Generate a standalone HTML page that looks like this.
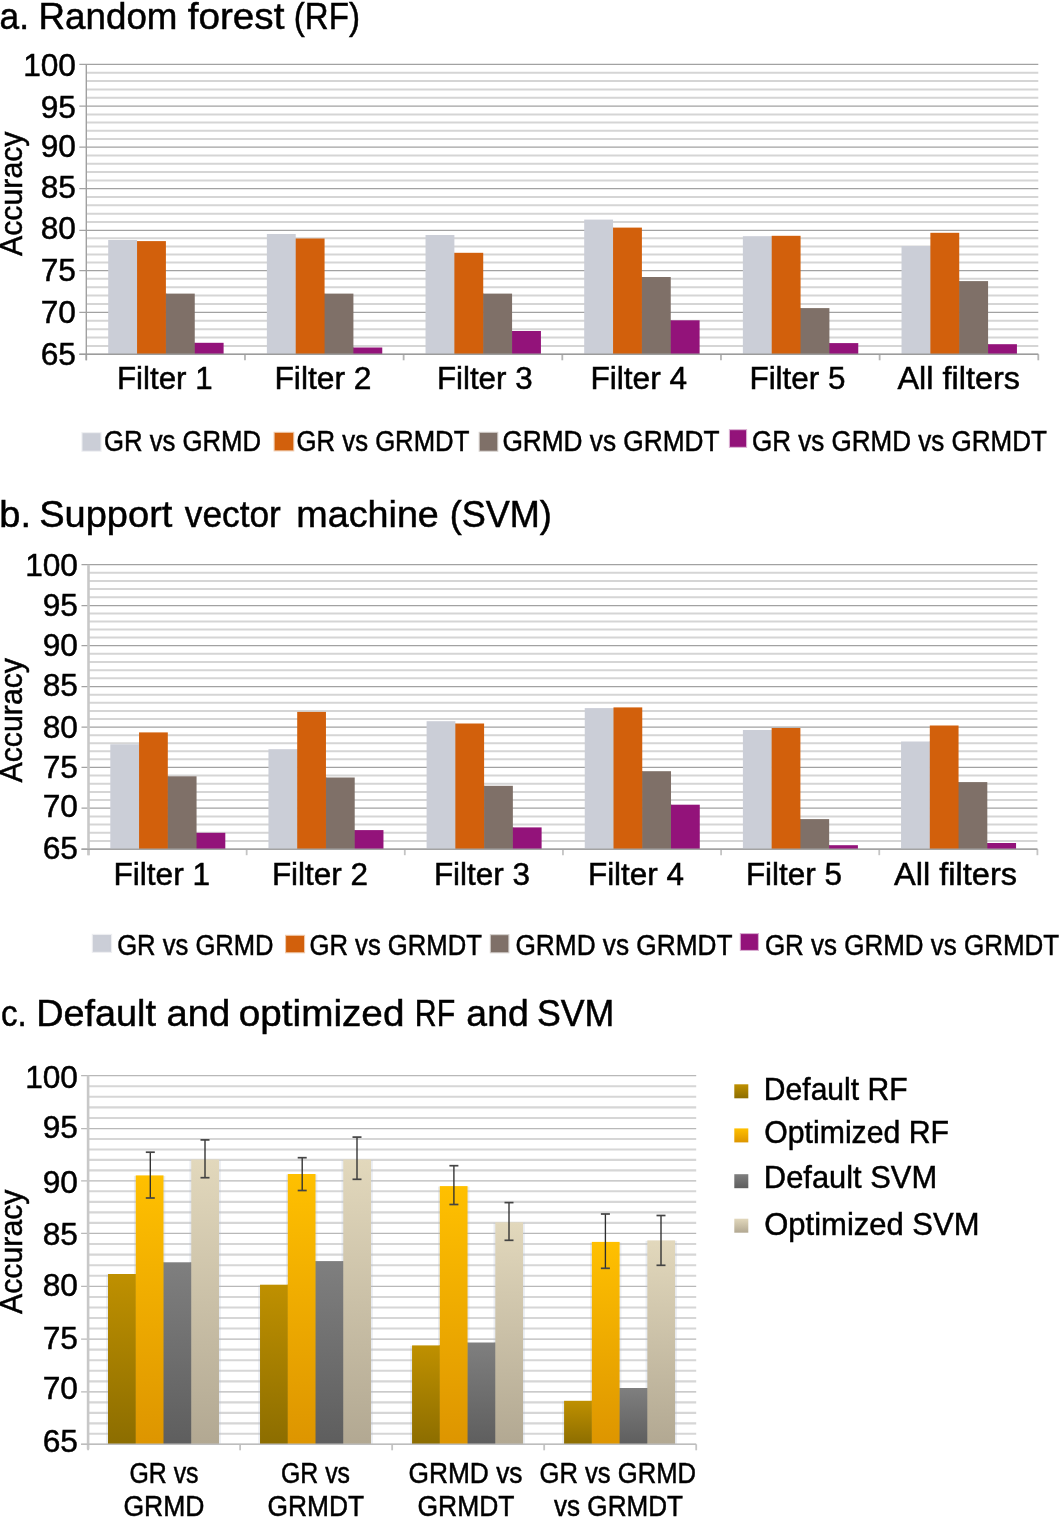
<!DOCTYPE html>
<html><head><meta charset="utf-8"><title>Accuracy charts</title>
<style>
html,body{margin:0;padding:0;background:#fff;}
svg{display:block;will-change:transform;}
text{font-family:"Liberation Sans", sans-serif;fill:#000;stroke:#000;stroke-width:0.5px;-webkit-font-smoothing:antialiased;}
</style></head><body>
<svg width="1060" height="1518" viewBox="0 0 1060 1518">
<defs>
<linearGradient id="gc0" x1="0" y1="0" x2="0" y2="1"><stop offset="0" stop-color="#bf9000"/><stop offset="1" stop-color="#8c6d00"/></linearGradient>
<linearGradient id="gc1" x1="0" y1="0" x2="0" y2="1"><stop offset="0" stop-color="#ffc000"/><stop offset="1" stop-color="#dd9500"/></linearGradient>
<linearGradient id="gc2" x1="0" y1="0" x2="0" y2="1"><stop offset="0" stop-color="#7f7f7f"/><stop offset="1" stop-color="#5e5e5e"/></linearGradient>
<linearGradient id="gc3" x1="0" y1="0" x2="0" y2="1"><stop offset="0" stop-color="#e2d8bc"/><stop offset="1" stop-color="#b2a892"/></linearGradient>
</defs>
<rect x="0" y="0" width="1060" height="1518" fill="#fff"/>
<line x1="86.30" y1="72.76" x2="1038.30" y2="72.76" stroke="#d5d5d5" stroke-width="2.0" />
<line x1="86.30" y1="81.12" x2="1038.30" y2="81.12" stroke="#d5d5d5" stroke-width="2.0" />
<line x1="86.30" y1="89.48" x2="1038.30" y2="89.48" stroke="#d5d5d5" stroke-width="2.0" />
<line x1="86.30" y1="97.84" x2="1038.30" y2="97.84" stroke="#d5d5d5" stroke-width="2.0" />
<line x1="86.30" y1="114.40" x2="1038.30" y2="114.40" stroke="#d5d5d5" stroke-width="2.0" />
<line x1="86.30" y1="122.60" x2="1038.30" y2="122.60" stroke="#d5d5d5" stroke-width="2.0" />
<line x1="86.30" y1="130.80" x2="1038.30" y2="130.80" stroke="#d5d5d5" stroke-width="2.0" />
<line x1="86.30" y1="139.00" x2="1038.30" y2="139.00" stroke="#d5d5d5" stroke-width="2.0" />
<line x1="86.30" y1="155.50" x2="1038.30" y2="155.50" stroke="#d5d5d5" stroke-width="2.0" />
<line x1="86.30" y1="163.80" x2="1038.30" y2="163.80" stroke="#d5d5d5" stroke-width="2.0" />
<line x1="86.30" y1="172.10" x2="1038.30" y2="172.10" stroke="#d5d5d5" stroke-width="2.0" />
<line x1="86.30" y1="180.40" x2="1038.30" y2="180.40" stroke="#d5d5d5" stroke-width="2.0" />
<line x1="86.30" y1="197.02" x2="1038.30" y2="197.02" stroke="#d5d5d5" stroke-width="2.0" />
<line x1="86.30" y1="205.34" x2="1038.30" y2="205.34" stroke="#d5d5d5" stroke-width="2.0" />
<line x1="86.30" y1="213.66" x2="1038.30" y2="213.66" stroke="#d5d5d5" stroke-width="2.0" />
<line x1="86.30" y1="221.98" x2="1038.30" y2="221.98" stroke="#d5d5d5" stroke-width="2.0" />
<line x1="86.30" y1="238.34" x2="1038.30" y2="238.34" stroke="#d5d5d5" stroke-width="2.0" />
<line x1="86.30" y1="246.38" x2="1038.30" y2="246.38" stroke="#d5d5d5" stroke-width="2.0" />
<line x1="86.30" y1="254.42" x2="1038.30" y2="254.42" stroke="#d5d5d5" stroke-width="2.0" />
<line x1="86.30" y1="262.46" x2="1038.30" y2="262.46" stroke="#d5d5d5" stroke-width="2.0" />
<line x1="86.30" y1="278.86" x2="1038.30" y2="278.86" stroke="#d5d5d5" stroke-width="2.0" />
<line x1="86.30" y1="287.22" x2="1038.30" y2="287.22" stroke="#d5d5d5" stroke-width="2.0" />
<line x1="86.30" y1="295.58" x2="1038.30" y2="295.58" stroke="#d5d5d5" stroke-width="2.0" />
<line x1="86.30" y1="303.94" x2="1038.30" y2="303.94" stroke="#d5d5d5" stroke-width="2.0" />
<line x1="86.30" y1="320.72" x2="1038.30" y2="320.72" stroke="#d5d5d5" stroke-width="2.0" />
<line x1="86.30" y1="329.14" x2="1038.30" y2="329.14" stroke="#d5d5d5" stroke-width="2.0" />
<line x1="86.30" y1="337.56" x2="1038.30" y2="337.56" stroke="#d5d5d5" stroke-width="2.0" />
<line x1="86.30" y1="345.98" x2="1038.30" y2="345.98" stroke="#d5d5d5" stroke-width="2.0" />
<line x1="79.30" y1="64.40" x2="1038.30" y2="64.40" stroke="#a2a2a2" stroke-width="1.25" />
<line x1="79.30" y1="106.20" x2="1038.30" y2="106.20" stroke="#a2a2a2" stroke-width="1.25" />
<line x1="79.30" y1="147.20" x2="1038.30" y2="147.20" stroke="#a2a2a2" stroke-width="1.25" />
<line x1="79.30" y1="188.70" x2="1038.30" y2="188.70" stroke="#a2a2a2" stroke-width="1.25" />
<line x1="79.30" y1="230.30" x2="1038.30" y2="230.30" stroke="#a2a2a2" stroke-width="1.25" />
<line x1="79.30" y1="270.50" x2="1038.30" y2="270.50" stroke="#a2a2a2" stroke-width="1.25" />
<line x1="79.30" y1="312.30" x2="1038.30" y2="312.30" stroke="#a2a2a2" stroke-width="1.25" />
<line x1="79.30" y1="354.40" x2="1038.30" y2="354.40" stroke="#a2a2a2" stroke-width="1.25" />
<line x1="86.30" y1="354.30" x2="86.30" y2="360.30" stroke="#b4b4b4" stroke-width="1.8" />
<line x1="244.97" y1="354.30" x2="244.97" y2="360.30" stroke="#b4b4b4" stroke-width="1.8" />
<line x1="403.63" y1="354.30" x2="403.63" y2="360.30" stroke="#b4b4b4" stroke-width="1.8" />
<line x1="562.30" y1="354.30" x2="562.30" y2="360.30" stroke="#b4b4b4" stroke-width="1.8" />
<line x1="720.97" y1="354.30" x2="720.97" y2="360.30" stroke="#b4b4b4" stroke-width="1.8" />
<line x1="879.63" y1="354.30" x2="879.63" y2="360.30" stroke="#b4b4b4" stroke-width="1.8" />
<line x1="1038.30" y1="354.30" x2="1038.30" y2="360.30" stroke="#b4b4b4" stroke-width="1.8" />
<rect x="136.45" y="241.10" width="1.20" height="113.20" fill="#cbced7" />
<rect x="165.30" y="293.60" width="1.20" height="60.70" fill="#d2600c" />
<rect x="194.15" y="342.80" width="1.20" height="11.50" fill="#7f7068" />
<rect x="295.12" y="238.50" width="1.20" height="115.80" fill="#cbced7" />
<rect x="323.96" y="293.60" width="1.20" height="60.70" fill="#d2600c" />
<rect x="352.81" y="347.50" width="1.20" height="6.80" fill="#7f7068" />
<rect x="453.78" y="252.80" width="1.20" height="101.50" fill="#cbced7" />
<rect x="482.63" y="293.60" width="1.20" height="60.70" fill="#d2600c" />
<rect x="511.48" y="331.00" width="1.20" height="23.30" fill="#7f7068" />
<rect x="612.45" y="227.60" width="1.20" height="126.70" fill="#cbced7" />
<rect x="641.30" y="277.00" width="1.20" height="77.30" fill="#d2600c" />
<rect x="670.15" y="320.30" width="1.20" height="34.00" fill="#7f7068" />
<rect x="771.12" y="236.20" width="1.20" height="118.10" fill="#cbced7" />
<rect x="799.96" y="308.10" width="1.20" height="46.20" fill="#d2600c" />
<rect x="828.81" y="343.10" width="1.20" height="11.20" fill="#7f7068" />
<rect x="929.78" y="246.00" width="1.20" height="108.30" fill="#cbced7" />
<rect x="958.63" y="281.10" width="1.20" height="73.20" fill="#d2600c" />
<rect x="987.48" y="344.20" width="1.20" height="10.10" fill="#7f7068" />
<rect x="108.20" y="240.00" width="28.85" height="114.30" fill="#cbced7" />
<rect x="137.05" y="241.10" width="28.85" height="113.20" fill="#d2600c" />
<rect x="165.90" y="293.60" width="28.85" height="60.70" fill="#7f7068" />
<rect x="194.75" y="342.80" width="28.85" height="11.50" fill="#93137a" />
<rect x="266.87" y="234.00" width="28.85" height="120.30" fill="#cbced7" />
<rect x="295.72" y="238.50" width="28.85" height="115.80" fill="#d2600c" />
<rect x="324.56" y="293.60" width="28.85" height="60.70" fill="#7f7068" />
<rect x="353.41" y="347.50" width="28.85" height="6.80" fill="#93137a" />
<rect x="425.53" y="235.00" width="28.85" height="119.30" fill="#cbced7" />
<rect x="454.38" y="252.80" width="28.85" height="101.50" fill="#d2600c" />
<rect x="483.23" y="293.60" width="28.85" height="60.70" fill="#7f7068" />
<rect x="512.08" y="331.00" width="28.85" height="23.30" fill="#93137a" />
<rect x="584.20" y="219.60" width="28.85" height="134.70" fill="#cbced7" />
<rect x="613.05" y="227.60" width="28.85" height="126.70" fill="#d2600c" />
<rect x="641.90" y="277.00" width="28.85" height="77.30" fill="#7f7068" />
<rect x="670.75" y="320.30" width="28.85" height="34.00" fill="#93137a" />
<rect x="742.87" y="236.20" width="28.85" height="118.10" fill="#cbced7" />
<rect x="771.72" y="235.80" width="28.85" height="118.50" fill="#d2600c" />
<rect x="800.56" y="308.10" width="28.85" height="46.20" fill="#7f7068" />
<rect x="829.41" y="343.10" width="28.85" height="11.20" fill="#93137a" />
<rect x="901.53" y="246.00" width="28.85" height="108.30" fill="#cbced7" />
<rect x="930.38" y="232.80" width="28.85" height="121.50" fill="#d2600c" />
<rect x="959.23" y="281.10" width="28.85" height="73.20" fill="#7f7068" />
<rect x="988.08" y="344.20" width="28.85" height="10.10" fill="#93137a" />
<line x1="86.30" y1="64.50" x2="86.30" y2="360.30" stroke="#a0a0a0" stroke-width="1.4" />
<line x1="79.30" y1="354.30" x2="1038.30" y2="354.30" stroke="#9c9c9c" stroke-width="1.4" />
<line x1="88.50" y1="572.70" x2="1037.40" y2="572.70" stroke="#d5d5d5" stroke-width="2.0" />
<line x1="88.50" y1="580.90" x2="1037.40" y2="580.90" stroke="#d5d5d5" stroke-width="2.0" />
<line x1="88.50" y1="589.10" x2="1037.40" y2="589.10" stroke="#d5d5d5" stroke-width="2.0" />
<line x1="88.50" y1="597.30" x2="1037.40" y2="597.30" stroke="#d5d5d5" stroke-width="2.0" />
<line x1="88.50" y1="613.52" x2="1037.40" y2="613.52" stroke="#d5d5d5" stroke-width="2.0" />
<line x1="88.50" y1="621.54" x2="1037.40" y2="621.54" stroke="#d5d5d5" stroke-width="2.0" />
<line x1="88.50" y1="629.56" x2="1037.40" y2="629.56" stroke="#d5d5d5" stroke-width="2.0" />
<line x1="88.50" y1="637.58" x2="1037.40" y2="637.58" stroke="#d5d5d5" stroke-width="2.0" />
<line x1="88.50" y1="653.78" x2="1037.40" y2="653.78" stroke="#d5d5d5" stroke-width="2.0" />
<line x1="88.50" y1="661.96" x2="1037.40" y2="661.96" stroke="#d5d5d5" stroke-width="2.0" />
<line x1="88.50" y1="670.14" x2="1037.40" y2="670.14" stroke="#d5d5d5" stroke-width="2.0" />
<line x1="88.50" y1="678.32" x2="1037.40" y2="678.32" stroke="#d5d5d5" stroke-width="2.0" />
<line x1="88.50" y1="694.64" x2="1037.40" y2="694.64" stroke="#d5d5d5" stroke-width="2.0" />
<line x1="88.50" y1="702.78" x2="1037.40" y2="702.78" stroke="#d5d5d5" stroke-width="2.0" />
<line x1="88.50" y1="710.92" x2="1037.40" y2="710.92" stroke="#d5d5d5" stroke-width="2.0" />
<line x1="88.50" y1="719.06" x2="1037.40" y2="719.06" stroke="#d5d5d5" stroke-width="2.0" />
<line x1="88.50" y1="735.24" x2="1037.40" y2="735.24" stroke="#d5d5d5" stroke-width="2.0" />
<line x1="88.50" y1="743.28" x2="1037.40" y2="743.28" stroke="#d5d5d5" stroke-width="2.0" />
<line x1="88.50" y1="751.32" x2="1037.40" y2="751.32" stroke="#d5d5d5" stroke-width="2.0" />
<line x1="88.50" y1="759.36" x2="1037.40" y2="759.36" stroke="#d5d5d5" stroke-width="2.0" />
<line x1="88.50" y1="775.56" x2="1037.40" y2="775.56" stroke="#d5d5d5" stroke-width="2.0" />
<line x1="88.50" y1="783.72" x2="1037.40" y2="783.72" stroke="#d5d5d5" stroke-width="2.0" />
<line x1="88.50" y1="791.88" x2="1037.40" y2="791.88" stroke="#d5d5d5" stroke-width="2.0" />
<line x1="88.50" y1="800.04" x2="1037.40" y2="800.04" stroke="#d5d5d5" stroke-width="2.0" />
<line x1="88.50" y1="816.40" x2="1037.40" y2="816.40" stroke="#d5d5d5" stroke-width="2.0" />
<line x1="88.50" y1="824.60" x2="1037.40" y2="824.60" stroke="#d5d5d5" stroke-width="2.0" />
<line x1="88.50" y1="832.80" x2="1037.40" y2="832.80" stroke="#d5d5d5" stroke-width="2.0" />
<line x1="88.50" y1="841.00" x2="1037.40" y2="841.00" stroke="#d5d5d5" stroke-width="2.0" />
<line x1="81.50" y1="564.50" x2="1037.40" y2="564.50" stroke="#a2a2a2" stroke-width="1.25" />
<line x1="81.50" y1="605.50" x2="1037.40" y2="605.50" stroke="#a2a2a2" stroke-width="1.25" />
<line x1="81.50" y1="645.60" x2="1037.40" y2="645.60" stroke="#a2a2a2" stroke-width="1.25" />
<line x1="81.50" y1="686.50" x2="1037.40" y2="686.50" stroke="#a2a2a2" stroke-width="1.25" />
<line x1="81.50" y1="727.20" x2="1037.40" y2="727.20" stroke="#a2a2a2" stroke-width="1.25" />
<line x1="81.50" y1="767.40" x2="1037.40" y2="767.40" stroke="#a2a2a2" stroke-width="1.25" />
<line x1="81.50" y1="808.20" x2="1037.40" y2="808.20" stroke="#a2a2a2" stroke-width="1.25" />
<line x1="81.50" y1="849.20" x2="1037.40" y2="849.20" stroke="#a2a2a2" stroke-width="1.25" />
<line x1="88.50" y1="849.20" x2="88.50" y2="855.20" stroke="#c4c4c4" stroke-width="1.8" />
<line x1="246.65" y1="849.20" x2="246.65" y2="855.20" stroke="#c4c4c4" stroke-width="1.8" />
<line x1="404.80" y1="849.20" x2="404.80" y2="855.20" stroke="#c4c4c4" stroke-width="1.8" />
<line x1="562.95" y1="849.20" x2="562.95" y2="855.20" stroke="#c4c4c4" stroke-width="1.8" />
<line x1="721.10" y1="849.20" x2="721.10" y2="855.20" stroke="#c4c4c4" stroke-width="1.8" />
<line x1="879.25" y1="849.20" x2="879.25" y2="855.20" stroke="#c4c4c4" stroke-width="1.8" />
<line x1="1037.40" y1="849.20" x2="1037.40" y2="855.20" stroke="#c4c4c4" stroke-width="1.8" />
<rect x="138.45" y="744.30" width="1.20" height="104.90" fill="#cbced7" />
<rect x="167.21" y="776.30" width="1.20" height="72.90" fill="#d2600c" />
<rect x="195.96" y="832.80" width="1.20" height="16.40" fill="#7f7068" />
<rect x="296.60" y="749.20" width="1.20" height="100.00" fill="#cbced7" />
<rect x="325.36" y="777.50" width="1.20" height="71.70" fill="#d2600c" />
<rect x="354.11" y="830.10" width="1.20" height="19.10" fill="#7f7068" />
<rect x="454.75" y="723.50" width="1.20" height="125.70" fill="#cbced7" />
<rect x="483.51" y="785.80" width="1.20" height="63.40" fill="#d2600c" />
<rect x="512.26" y="827.40" width="1.20" height="21.80" fill="#7f7068" />
<rect x="612.90" y="708.10" width="1.20" height="141.10" fill="#cbced7" />
<rect x="641.66" y="771.20" width="1.20" height="78.00" fill="#d2600c" />
<rect x="670.41" y="804.70" width="1.20" height="44.50" fill="#7f7068" />
<rect x="771.05" y="730.00" width="1.20" height="119.20" fill="#cbced7" />
<rect x="799.81" y="819.10" width="1.20" height="30.10" fill="#d2600c" />
<rect x="828.56" y="845.20" width="1.20" height="4.00" fill="#7f7068" />
<rect x="929.20" y="741.50" width="1.20" height="107.70" fill="#cbced7" />
<rect x="957.96" y="782.10" width="1.20" height="67.10" fill="#d2600c" />
<rect x="986.71" y="843.00" width="1.20" height="6.20" fill="#7f7068" />
<rect x="110.30" y="744.30" width="28.75" height="104.90" fill="#cbced7" />
<rect x="139.05" y="732.40" width="28.75" height="116.80" fill="#d2600c" />
<rect x="167.81" y="776.30" width="28.75" height="72.90" fill="#7f7068" />
<rect x="196.56" y="832.80" width="28.75" height="16.40" fill="#93137a" />
<rect x="268.45" y="749.20" width="28.75" height="100.00" fill="#cbced7" />
<rect x="297.20" y="711.90" width="28.75" height="137.30" fill="#d2600c" />
<rect x="325.96" y="777.50" width="28.75" height="71.70" fill="#7f7068" />
<rect x="354.71" y="830.10" width="28.75" height="19.10" fill="#93137a" />
<rect x="426.60" y="721.20" width="28.75" height="128.00" fill="#cbced7" />
<rect x="455.35" y="723.50" width="28.75" height="125.70" fill="#d2600c" />
<rect x="484.11" y="785.80" width="28.75" height="63.40" fill="#7f7068" />
<rect x="512.86" y="827.40" width="28.75" height="21.80" fill="#93137a" />
<rect x="584.75" y="708.10" width="28.75" height="141.10" fill="#cbced7" />
<rect x="613.50" y="707.40" width="28.75" height="141.80" fill="#d2600c" />
<rect x="642.26" y="771.20" width="28.75" height="78.00" fill="#7f7068" />
<rect x="671.01" y="804.70" width="28.75" height="44.50" fill="#93137a" />
<rect x="742.90" y="730.00" width="28.75" height="119.20" fill="#cbced7" />
<rect x="771.65" y="728.00" width="28.75" height="121.20" fill="#d2600c" />
<rect x="800.41" y="819.10" width="28.75" height="30.10" fill="#7f7068" />
<rect x="829.16" y="845.20" width="28.75" height="4.00" fill="#93137a" />
<rect x="901.05" y="741.50" width="28.75" height="107.70" fill="#cbced7" />
<rect x="929.80" y="725.50" width="28.75" height="123.70" fill="#d2600c" />
<rect x="958.56" y="782.10" width="28.75" height="67.10" fill="#7f7068" />
<rect x="987.31" y="843.00" width="28.75" height="6.20" fill="#93137a" />
<line x1="88.50" y1="564.80" x2="88.50" y2="855.20" stroke="#c8c8c8" stroke-width="2.6" />
<line x1="81.50" y1="849.20" x2="1037.40" y2="849.20" stroke="#a3a3a3" stroke-width="1.4" />
<rect x="82.50" y="433.20" width="18.00" height="17.50" fill="#cbced7" stroke="#cbced7" stroke-opacity="0.35" stroke-width="2.2"/>
<rect x="274.70" y="432.90" width="18.50" height="17.40" fill="#d2600c" stroke="#d2600c" stroke-opacity="0.35" stroke-width="2.2"/>
<rect x="479.80" y="432.90" width="17.40" height="17.80" fill="#7f7068" stroke="#7f7068" stroke-opacity="0.35" stroke-width="2.2"/>
<rect x="730.00" y="430.20" width="16.00" height="16.60" fill="#93137a" stroke="#93137a" stroke-opacity="0.35" stroke-width="2.2"/>
<rect x="92.90" y="935.00" width="18.10" height="16.80" fill="#cbced7" stroke="#cbced7" stroke-opacity="0.35" stroke-width="2.2"/>
<rect x="286.10" y="935.90" width="17.90" height="16.30" fill="#d2600c" stroke="#d2600c" stroke-opacity="0.35" stroke-width="2.2"/>
<rect x="490.90" y="935.20" width="17.40" height="17.00" fill="#7f7068" stroke="#7f7068" stroke-opacity="0.35" stroke-width="2.2"/>
<rect x="740.90" y="934.10" width="17.00" height="15.80" fill="#93137a" stroke="#93137a" stroke-opacity="0.35" stroke-width="2.2"/>
<line x1="88.10" y1="1086.20" x2="696.20" y2="1086.20" stroke="#d6d6d6" stroke-width="2.1" />
<line x1="88.10" y1="1096.80" x2="696.20" y2="1096.80" stroke="#d6d6d6" stroke-width="2.1" />
<line x1="88.10" y1="1107.40" x2="696.20" y2="1107.40" stroke="#d6d6d6" stroke-width="2.1" />
<line x1="88.10" y1="1118.00" x2="696.20" y2="1118.00" stroke="#d6d6d6" stroke-width="2.1" />
<line x1="88.10" y1="1139.04" x2="696.20" y2="1139.04" stroke="#d6d6d6" stroke-width="2.1" />
<line x1="88.10" y1="1149.48" x2="696.20" y2="1149.48" stroke="#d6d6d6" stroke-width="2.1" />
<line x1="88.10" y1="1159.92" x2="696.20" y2="1159.92" stroke="#d6d6d6" stroke-width="2.1" />
<line x1="88.10" y1="1170.36" x2="696.20" y2="1170.36" stroke="#d6d6d6" stroke-width="2.1" />
<line x1="88.10" y1="1191.32" x2="696.20" y2="1191.32" stroke="#d6d6d6" stroke-width="2.1" />
<line x1="88.10" y1="1201.84" x2="696.20" y2="1201.84" stroke="#d6d6d6" stroke-width="2.1" />
<line x1="88.10" y1="1212.36" x2="696.20" y2="1212.36" stroke="#d6d6d6" stroke-width="2.1" />
<line x1="88.10" y1="1222.88" x2="696.20" y2="1222.88" stroke="#d6d6d6" stroke-width="2.1" />
<line x1="88.10" y1="1244.00" x2="696.20" y2="1244.00" stroke="#d6d6d6" stroke-width="2.1" />
<line x1="88.10" y1="1254.60" x2="696.20" y2="1254.60" stroke="#d6d6d6" stroke-width="2.1" />
<line x1="88.10" y1="1265.20" x2="696.20" y2="1265.20" stroke="#d6d6d6" stroke-width="2.1" />
<line x1="88.10" y1="1275.80" x2="696.20" y2="1275.80" stroke="#d6d6d6" stroke-width="2.1" />
<line x1="88.10" y1="1296.94" x2="696.20" y2="1296.94" stroke="#d6d6d6" stroke-width="2.1" />
<line x1="88.10" y1="1307.48" x2="696.20" y2="1307.48" stroke="#d6d6d6" stroke-width="2.1" />
<line x1="88.10" y1="1318.02" x2="696.20" y2="1318.02" stroke="#d6d6d6" stroke-width="2.1" />
<line x1="88.10" y1="1328.56" x2="696.20" y2="1328.56" stroke="#d6d6d6" stroke-width="2.1" />
<line x1="88.10" y1="1349.66" x2="696.20" y2="1349.66" stroke="#d6d6d6" stroke-width="2.1" />
<line x1="88.10" y1="1360.22" x2="696.20" y2="1360.22" stroke="#d6d6d6" stroke-width="2.1" />
<line x1="88.10" y1="1370.78" x2="696.20" y2="1370.78" stroke="#d6d6d6" stroke-width="2.1" />
<line x1="88.10" y1="1381.34" x2="696.20" y2="1381.34" stroke="#d6d6d6" stroke-width="2.1" />
<line x1="88.10" y1="1402.38" x2="696.20" y2="1402.38" stroke="#d6d6d6" stroke-width="2.1" />
<line x1="88.10" y1="1412.86" x2="696.20" y2="1412.86" stroke="#d6d6d6" stroke-width="2.1" />
<line x1="88.10" y1="1423.34" x2="696.20" y2="1423.34" stroke="#d6d6d6" stroke-width="2.1" />
<line x1="88.10" y1="1433.82" x2="696.20" y2="1433.82" stroke="#d6d6d6" stroke-width="2.1" />
<line x1="81.10" y1="1075.60" x2="696.20" y2="1075.60" stroke="#b8b8b8" stroke-width="1.3" />
<line x1="81.10" y1="1128.60" x2="696.20" y2="1128.60" stroke="#b8b8b8" stroke-width="1.3" />
<line x1="81.10" y1="1180.80" x2="696.20" y2="1180.80" stroke="#b8b8b8" stroke-width="1.3" />
<line x1="81.10" y1="1233.40" x2="696.20" y2="1233.40" stroke="#b8b8b8" stroke-width="1.3" />
<line x1="81.10" y1="1286.40" x2="696.20" y2="1286.40" stroke="#b8b8b8" stroke-width="1.3" />
<line x1="81.10" y1="1339.10" x2="696.20" y2="1339.10" stroke="#b8b8b8" stroke-width="1.3" />
<line x1="81.10" y1="1391.90" x2="696.20" y2="1391.90" stroke="#b8b8b8" stroke-width="1.3" />
<line x1="81.10" y1="1444.30" x2="696.20" y2="1444.30" stroke="#b8b8b8" stroke-width="1.3" />
<line x1="88.10" y1="1444.30" x2="88.10" y2="1450.30" stroke="#c4c4c4" stroke-width="1.8" />
<line x1="240.12" y1="1444.30" x2="240.12" y2="1450.30" stroke="#c4c4c4" stroke-width="1.8" />
<line x1="392.15" y1="1444.30" x2="392.15" y2="1450.30" stroke="#c4c4c4" stroke-width="1.8" />
<line x1="544.18" y1="1444.30" x2="544.18" y2="1450.30" stroke="#c4c4c4" stroke-width="1.8" />
<line x1="696.20" y1="1444.30" x2="696.20" y2="1450.30" stroke="#c4c4c4" stroke-width="1.8" />
<rect x="106.20" y="1274.50" width="31.35" height="169.80" fill="#b4bed0" fill-opacity="0.28"/>
<rect x="133.95" y="1175.90" width="31.35" height="268.40" fill="#b4bed0" fill-opacity="0.28"/>
<rect x="161.70" y="1262.80" width="31.35" height="181.50" fill="#b4bed0" fill-opacity="0.28"/>
<rect x="189.45" y="1160.00" width="31.35" height="284.30" fill="#b4bed0" fill-opacity="0.28"/>
<rect x="258.22" y="1285.20" width="31.35" height="159.10" fill="#b4bed0" fill-opacity="0.28"/>
<rect x="285.97" y="1174.50" width="31.35" height="269.80" fill="#b4bed0" fill-opacity="0.28"/>
<rect x="313.72" y="1261.60" width="31.35" height="182.70" fill="#b4bed0" fill-opacity="0.28"/>
<rect x="341.47" y="1160.00" width="31.35" height="284.30" fill="#b4bed0" fill-opacity="0.28"/>
<rect x="410.25" y="1345.90" width="31.35" height="98.40" fill="#b4bed0" fill-opacity="0.28"/>
<rect x="438.00" y="1186.60" width="31.35" height="257.70" fill="#b4bed0" fill-opacity="0.28"/>
<rect x="465.75" y="1343.00" width="31.35" height="101.30" fill="#b4bed0" fill-opacity="0.28"/>
<rect x="493.50" y="1222.80" width="31.35" height="221.50" fill="#b4bed0" fill-opacity="0.28"/>
<rect x="562.28" y="1401.30" width="31.35" height="43.00" fill="#b4bed0" fill-opacity="0.28"/>
<rect x="590.03" y="1242.40" width="31.35" height="201.90" fill="#b4bed0" fill-opacity="0.28"/>
<rect x="617.78" y="1388.50" width="31.35" height="55.80" fill="#b4bed0" fill-opacity="0.28"/>
<rect x="645.53" y="1240.90" width="31.35" height="203.40" fill="#b4bed0" fill-opacity="0.28"/>
<rect x="135.15" y="1274.00" width="1.20" height="170.30" fill="url(#gc0)" />
<rect x="162.90" y="1262.30" width="1.20" height="182.00" fill="url(#gc1)" />
<rect x="190.65" y="1262.30" width="1.20" height="182.00" fill="url(#gc2)" />
<rect x="287.17" y="1284.70" width="1.20" height="159.60" fill="url(#gc0)" />
<rect x="314.92" y="1261.10" width="1.20" height="183.20" fill="url(#gc1)" />
<rect x="342.67" y="1261.10" width="1.20" height="183.20" fill="url(#gc2)" />
<rect x="439.20" y="1345.40" width="1.20" height="98.90" fill="url(#gc0)" />
<rect x="466.95" y="1342.50" width="1.20" height="101.80" fill="url(#gc1)" />
<rect x="494.70" y="1342.50" width="1.20" height="101.80" fill="url(#gc2)" />
<rect x="591.23" y="1400.80" width="1.20" height="43.50" fill="url(#gc0)" />
<rect x="618.98" y="1388.00" width="1.20" height="56.30" fill="url(#gc1)" />
<rect x="646.73" y="1388.00" width="1.20" height="56.30" fill="url(#gc2)" />
<rect x="108.00" y="1274.00" width="27.75" height="170.30" fill="url(#gc0)" />
<rect x="135.75" y="1175.40" width="27.75" height="268.90" fill="url(#gc1)" />
<rect x="163.50" y="1262.30" width="27.75" height="182.00" fill="url(#gc2)" />
<rect x="191.25" y="1159.50" width="27.75" height="284.80" fill="url(#gc3)" />
<rect x="260.02" y="1284.70" width="27.75" height="159.60" fill="url(#gc0)" />
<rect x="287.77" y="1174.00" width="27.75" height="270.30" fill="url(#gc1)" />
<rect x="315.52" y="1261.10" width="27.75" height="183.20" fill="url(#gc2)" />
<rect x="343.27" y="1159.50" width="27.75" height="284.80" fill="url(#gc3)" />
<rect x="412.05" y="1345.40" width="27.75" height="98.90" fill="url(#gc0)" />
<rect x="439.80" y="1186.10" width="27.75" height="258.20" fill="url(#gc1)" />
<rect x="467.55" y="1342.50" width="27.75" height="101.80" fill="url(#gc2)" />
<rect x="495.30" y="1222.30" width="27.75" height="222.00" fill="url(#gc3)" />
<rect x="564.08" y="1400.80" width="27.75" height="43.50" fill="url(#gc0)" />
<rect x="591.83" y="1241.90" width="27.75" height="202.40" fill="url(#gc1)" />
<rect x="619.58" y="1388.00" width="27.75" height="56.30" fill="url(#gc2)" />
<rect x="647.33" y="1240.40" width="27.75" height="203.90" fill="url(#gc3)" />
<line x1="88.10" y1="1075.50" x2="88.10" y2="1449.30" stroke="#c8c8c8" stroke-width="2.6" />
<line x1="81.10" y1="1444.30" x2="696.20" y2="1444.30" stroke="#bdbdbd" stroke-width="1.6" />
<line x1="150.30" y1="1152.20" x2="150.30" y2="1198.00" stroke="#2e2e2e" stroke-width="1.35" />
<line x1="145.80" y1="1152.20" x2="154.80" y2="1152.20" stroke="#444444" stroke-width="1.7" />
<line x1="145.80" y1="1198.00" x2="154.80" y2="1198.00" stroke="#444444" stroke-width="1.7" />
<line x1="205.00" y1="1139.90" x2="205.00" y2="1177.70" stroke="#2e2e2e" stroke-width="1.35" />
<line x1="200.50" y1="1139.90" x2="209.50" y2="1139.90" stroke="#444444" stroke-width="1.7" />
<line x1="200.50" y1="1177.70" x2="209.50" y2="1177.70" stroke="#444444" stroke-width="1.7" />
<line x1="302.20" y1="1157.70" x2="302.20" y2="1190.50" stroke="#2e2e2e" stroke-width="1.35" />
<line x1="297.70" y1="1157.70" x2="306.70" y2="1157.70" stroke="#444444" stroke-width="1.7" />
<line x1="297.70" y1="1190.50" x2="306.70" y2="1190.50" stroke="#444444" stroke-width="1.7" />
<line x1="357.00" y1="1137.10" x2="357.00" y2="1179.30" stroke="#2e2e2e" stroke-width="1.35" />
<line x1="352.50" y1="1137.10" x2="361.50" y2="1137.10" stroke="#444444" stroke-width="1.7" />
<line x1="352.50" y1="1179.30" x2="361.50" y2="1179.30" stroke="#444444" stroke-width="1.7" />
<line x1="453.90" y1="1165.70" x2="453.90" y2="1204.50" stroke="#2e2e2e" stroke-width="1.35" />
<line x1="449.40" y1="1165.70" x2="458.40" y2="1165.70" stroke="#444444" stroke-width="1.7" />
<line x1="449.40" y1="1204.50" x2="458.40" y2="1204.50" stroke="#444444" stroke-width="1.7" />
<line x1="509.00" y1="1202.60" x2="509.00" y2="1240.30" stroke="#2e2e2e" stroke-width="1.35" />
<line x1="504.50" y1="1202.60" x2="513.50" y2="1202.60" stroke="#444444" stroke-width="1.7" />
<line x1="504.50" y1="1240.30" x2="513.50" y2="1240.30" stroke="#444444" stroke-width="1.7" />
<line x1="605.40" y1="1214.00" x2="605.40" y2="1268.30" stroke="#2e2e2e" stroke-width="1.35" />
<line x1="600.90" y1="1214.00" x2="609.90" y2="1214.00" stroke="#444444" stroke-width="1.7" />
<line x1="600.90" y1="1268.30" x2="609.90" y2="1268.30" stroke="#444444" stroke-width="1.7" />
<line x1="661.00" y1="1215.50" x2="661.00" y2="1265.30" stroke="#2e2e2e" stroke-width="1.35" />
<line x1="656.50" y1="1215.50" x2="665.50" y2="1215.50" stroke="#444444" stroke-width="1.7" />
<line x1="656.50" y1="1265.30" x2="665.50" y2="1265.30" stroke="#444444" stroke-width="1.7" />
<rect x="734.30" y="1084.30" width="14.00" height="14.00" fill="url(#gc0)" />
<rect x="734.30" y="1128.40" width="14.00" height="14.00" fill="url(#gc1)" />
<rect x="734.30" y="1174.20" width="14.00" height="14.00" fill="url(#gc2)" />
<rect x="734.30" y="1218.70" width="14.00" height="14.00" fill="url(#gc3)" />
<text x="-0.48" y="28.90" font-size="37.06" textLength="29.44" lengthAdjust="spacingAndGlyphs">a.</text>
<text x="38.53" y="28.90" font-size="37.06" textLength="138.95" lengthAdjust="spacingAndGlyphs">Random</text>
<text x="187.80" y="28.90" font-size="37.06" textLength="96.60" lengthAdjust="spacingAndGlyphs">forest</text>
<text x="293.87" y="28.90" font-size="37.06" textLength="66.06" lengthAdjust="spacingAndGlyphs">(RF)</text>
<text x="-0.74" y="526.80" font-size="37.06" textLength="31.68" lengthAdjust="spacingAndGlyphs">b.</text>
<text x="39.19" y="526.80" font-size="37.06" textLength="133.21" lengthAdjust="spacingAndGlyphs">Support</text>
<text x="184.80" y="526.80" font-size="37.06" textLength="96.00" lengthAdjust="spacingAndGlyphs">vector</text>
<text x="296.34" y="526.80" font-size="37.06" textLength="142.50" lengthAdjust="spacingAndGlyphs">machine</text>
<text x="449.71" y="526.80" font-size="37.06" textLength="102.17" lengthAdjust="spacingAndGlyphs">(SVM)</text>
<text x="0.93" y="1025.70" font-size="37.06" textLength="25.76" lengthAdjust="spacingAndGlyphs">c.</text>
<text x="36.15" y="1025.70" font-size="37.06" textLength="119.85" lengthAdjust="spacingAndGlyphs">Default</text>
<text x="166.52" y="1025.70" font-size="37.06" textLength="63.64" lengthAdjust="spacingAndGlyphs">and</text>
<text x="238.76" y="1025.70" font-size="37.06" textLength="165.69" lengthAdjust="spacingAndGlyphs">optimized</text>
<text x="414.85" y="1025.70" font-size="37.06" textLength="40.39" lengthAdjust="spacingAndGlyphs">RF</text>
<text x="466.36" y="1025.70" font-size="37.06" textLength="62.32" lengthAdjust="spacingAndGlyphs">and</text>
<text x="536.92" y="1025.70" font-size="37.06" textLength="77.39" lengthAdjust="spacingAndGlyphs">SVM</text>
<text x="76.00" y="75.90" font-size="31.69" text-anchor="end" >100</text>
<text x="76.00" y="118.10" font-size="31.69" text-anchor="end" >95</text>
<text x="76.00" y="157.00" font-size="31.69" text-anchor="end" >90</text>
<text x="76.00" y="197.90" font-size="31.69" text-anchor="end" >85</text>
<text x="76.00" y="239.10" font-size="31.69" text-anchor="end" >80</text>
<text x="76.00" y="281.30" font-size="31.69" text-anchor="end" >75</text>
<text x="76.00" y="323.10" font-size="31.69" text-anchor="end" >70</text>
<text x="76.00" y="365.10" font-size="31.69" text-anchor="end" >65</text>
<text x="78.00" y="575.90" font-size="31.69" text-anchor="end" >100</text>
<text x="78.00" y="616.30" font-size="31.69" text-anchor="end" >95</text>
<text x="78.00" y="656.10" font-size="31.69" text-anchor="end" >90</text>
<text x="78.00" y="695.90" font-size="31.69" text-anchor="end" >85</text>
<text x="78.00" y="737.80" font-size="31.69" text-anchor="end" >80</text>
<text x="78.00" y="777.80" font-size="31.69" text-anchor="end" >75</text>
<text x="78.00" y="817.00" font-size="31.69" text-anchor="end" >70</text>
<text x="78.00" y="858.70" font-size="31.69" text-anchor="end" >65</text>
<text x="78.00" y="1088.10" font-size="31.69" text-anchor="end" >100</text>
<text x="78.00" y="1138.30" font-size="31.69" text-anchor="end" >95</text>
<text x="78.00" y="1192.50" font-size="31.69" text-anchor="end" >90</text>
<text x="78.00" y="1244.50" font-size="31.69" text-anchor="end" >85</text>
<text x="78.00" y="1296.40" font-size="31.69" text-anchor="end" >80</text>
<text x="78.00" y="1348.80" font-size="31.69" text-anchor="end" >75</text>
<text x="78.00" y="1399.20" font-size="31.69" text-anchor="end" >70</text>
<text x="78.00" y="1452.10" font-size="31.69" text-anchor="end" >65</text>
<text transform="translate(22.20,256.00) rotate(-90)" font-size="31.54" textLength="124.50" lengthAdjust="spacingAndGlyphs">Accuracy</text>
<text transform="translate(22.20,782.51) rotate(-90)" font-size="31.54" textLength="124.51" lengthAdjust="spacingAndGlyphs">Accuracy</text>
<text transform="translate(22.20,1314.00) rotate(-90)" font-size="31.54" textLength="124.50" lengthAdjust="spacingAndGlyphs">Accuracy</text>
<text x="116.93" y="388.70" font-size="30.81" textLength="95.63" lengthAdjust="spacingAndGlyphs">Filter 1</text>
<text x="274.41" y="388.70" font-size="30.81" textLength="97.14" lengthAdjust="spacingAndGlyphs">Filter 2</text>
<text x="436.93" y="388.70" font-size="30.81" textLength="95.61" lengthAdjust="spacingAndGlyphs">Filter 3</text>
<text x="590.44" y="388.70" font-size="30.81" textLength="96.60" lengthAdjust="spacingAndGlyphs">Filter 4</text>
<text x="749.43" y="388.70" font-size="30.81" textLength="96.10" lengthAdjust="spacingAndGlyphs">Filter 5</text>
<text x="897.50" y="388.70" font-size="30.81" textLength="122.51" lengthAdjust="spacingAndGlyphs">All filters</text>
<text x="113.42" y="884.70" font-size="30.81" textLength="96.62" lengthAdjust="spacingAndGlyphs">Filter 1</text>
<text x="271.91" y="884.70" font-size="30.81" textLength="96.15" lengthAdjust="spacingAndGlyphs">Filter 2</text>
<text x="433.92" y="884.70" font-size="30.81" textLength="96.12" lengthAdjust="spacingAndGlyphs">Filter 3</text>
<text x="587.94" y="884.70" font-size="30.81" textLength="96.07" lengthAdjust="spacingAndGlyphs">Filter 4</text>
<text x="745.91" y="884.70" font-size="30.81" textLength="96.15" lengthAdjust="spacingAndGlyphs">Filter 5</text>
<text x="894.00" y="884.70" font-size="30.81" textLength="123.01" lengthAdjust="spacingAndGlyphs">All filters</text>
<text x="103.99" y="450.80" font-size="28.92" textLength="157.03" lengthAdjust="spacingAndGlyphs">GR vs GRMD</text>
<text x="296.59" y="450.80" font-size="28.92" textLength="172.80" lengthAdjust="spacingAndGlyphs">GR vs GRMDT</text>
<text x="502.39" y="450.80" font-size="28.92" textLength="217.21" lengthAdjust="spacingAndGlyphs">GRMD vs GRMDT</text>
<text x="751.89" y="450.80" font-size="28.92" textLength="295.11" lengthAdjust="spacingAndGlyphs">GR vs GRMD vs GRMDT</text>
<text x="117.19" y="954.80" font-size="28.92" textLength="156.43" lengthAdjust="spacingAndGlyphs">GR vs GRMD</text>
<text x="309.49" y="954.80" font-size="28.92" textLength="172.42" lengthAdjust="spacingAndGlyphs">GR vs GRMDT</text>
<text x="515.48" y="954.80" font-size="28.92" textLength="217.03" lengthAdjust="spacingAndGlyphs">GRMD vs GRMDT</text>
<text x="764.90" y="954.80" font-size="28.92" textLength="294.31" lengthAdjust="spacingAndGlyphs">GR vs GRMD vs GRMDT</text>
<text x="129.45" y="1482.80" font-size="28.63" textLength="69.08" lengthAdjust="spacingAndGlyphs">GR vs</text>
<text x="123.46" y="1516.30" font-size="28.63" textLength="81.06" lengthAdjust="spacingAndGlyphs">GRMD</text>
<text x="280.97" y="1482.80" font-size="28.63" textLength="69.06" lengthAdjust="spacingAndGlyphs">GR vs</text>
<text x="267.48" y="1516.30" font-size="28.63" textLength="96.52" lengthAdjust="spacingAndGlyphs">GRMDT</text>
<text x="408.47" y="1482.80" font-size="28.63" textLength="114.05" lengthAdjust="spacingAndGlyphs">GRMD vs</text>
<text x="417.47" y="1516.30" font-size="28.63" textLength="97.05" lengthAdjust="spacingAndGlyphs">GRMDT</text>
<text x="539.48" y="1482.80" font-size="28.63" textLength="156.52" lengthAdjust="spacingAndGlyphs">GR vs GRMD</text>
<text x="554.00" y="1516.30" font-size="28.63" textLength="129.01" lengthAdjust="spacingAndGlyphs">vs GRMDT</text>
<text x="763.87" y="1099.70" font-size="31.54" textLength="143.64" lengthAdjust="spacingAndGlyphs">Default RF</text>
<text x="764.29" y="1142.60" font-size="31.54" textLength="184.72" lengthAdjust="spacingAndGlyphs">Optimized RF</text>
<text x="763.86" y="1188.00" font-size="31.54" textLength="173.28" lengthAdjust="spacingAndGlyphs">Default SVM</text>
<text x="764.28" y="1234.80" font-size="31.54" textLength="215.26" lengthAdjust="spacingAndGlyphs">Optimized SVM</text>
</svg>
</body></html>
